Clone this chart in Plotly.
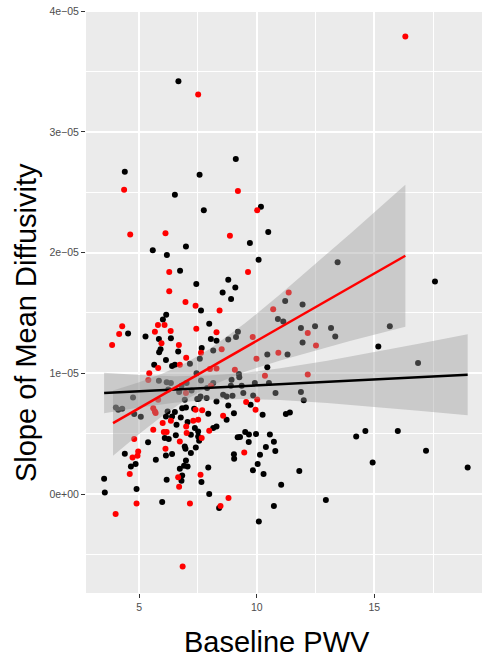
import plotly.graph_objects as go

# Mean diffusivity slopes are stored in units of 1e-05
MD_SCALE = 1e-5

# Baseline PWV / slope of MD, black group
black_pwv = [6.67, 9.11, 4.39, 7.57, 6.52, 7.75, 5.58, 6.18, 6.99, 6.74, 7.43, 8.79, 9.09, 8.55,
             8.91, 7.63, 6.15, 6.01, 7.98, 10.18, 10.49, 9.71, 10.08, 13.44, 11.21, 11.95, 10.90,
             11.13, 11.88, 12.48, 13.16, 15.66, 17.58, 4.53, 5.27, 5.84, 5.91, 5.85, 6.14, 5.64,
             6.35, 8.05, 8.29, 6.66, 7.66, 6.40, 6.52, 7.58, 8.15, 8.79, 9.12, 9.20, 7.16, 7.44,
             11.95, 10.45, 11.31, 10.45, 9.24, 13.34, 15.17, 16.86, 10.52, 9.43, 9.85, 10.80,
             11.88, 12.00, 9.74, 10.25, 11.24, 11.41, 9.51, 9.67, 9.97, 10.56, 9.66, 10.73, 10.39,
             10.79, 10.14, 10.04, 9.84, 10.29, 11.81, 11.04, 10.73, 10.09, 12.94, 14.23, 14.62,
             16.00, 17.20, 14.93, 18.97, 9.19, 9.29, 9.03, 9.04, 9.03, 8.29, 8.79, 8.72, 8.29,
             8.15, 7.94, 7.65, 7.98, 8.40, 6.94, 7.54, 7.34, 7.94, 6.83, 6.99, 6.52, 6.21, 6.14,
             6.40, 6.77, 6.59, 7.06, 7.37, 7.20, 7.51, 7.51, 7.55, 6.26, 6.56, 6.94, 6.97, 7.41,
             7.20, 6.40, 6.14, 6.99, 6.91, 7.06, 6.73, 6.83, 6.80, 6.17, 4.01, 4.11, 4.28, 4.79,
             5.07, 4.74, 6.09, 5.38, 4.39, 4.85, 4.65, 5.71, 3.51, 3.54, 4.89, 5.98, 5.84, 6.17,
             6.35, 6.80, 7.02, 6.70, 7.23, 7.47, 7.61, 7.89, 8.15, 8.72, 8.97, 8.93, 8.90, 7.63,
             9.36, 9.92, 9.26, 6.24, 8.57, 7.87]
black_md = [3.42, 2.775, 2.67, 2.645, 2.48, 2.35, 2.02, 1.98, 2.05, 1.85, 1.74, 1.775, 1.71, 1.67,
            1.615, 1.52, 1.485, 1.445, 1.41, 2.38, 2.17, 2.08, 1.94, 1.92, 1.60, 1.57, 1.45,
            1.43, 1.375, 1.39, 1.375, 1.39, 1.76, 1.33, 1.305, 1.285, 1.20, 1.175, 1.11, 1.07,
            1.29, 1.285, 1.27, 1.18, 1.21, 1.06, 1.07, 1.12, 1.19, 1.28, 1.30, 1.345, 1.08, 1.00,
            1.256, 1.155, 1.155, 1.05, 0.995, 1.305, 1.223, 1.085, 0.92, 0.837, 0.817, 0.837,
            0.845, 0.776, 0.74, 0.657, 0.663, 0.676, 0.514, 0.494, 0.497, 0.494, 0.431, 0.433, 0.389,
            0.356, 0.326, 0.249, 0.196, 0.166, 0.19, 0.077, -0.10, -0.227, -0.05, 0.477, 0.522,
            0.522, 0.359, 0.262, 0.22, 0.47, 0.473, 0.33, 0.292, 0.67, 0.767, 0.734, 0.616, 0.56,
            0.547, 0.22, 0.10, 0.00, -0.116, 0.78, 0.79, 0.707, 0.665, 0.71, 0.717, 0.68, 0.684, 0.643,
            0.643, 0.635, 0.574, 0.597, 0.547, 0.491, 0.519, 0.477, 0.442, 0.456, 0.486, 0.394, 0.375, 0.386,
            0.34, 0.331, 0.32, 0.278, 0.234, 0.229, 0.21, 0.154, 0.11, 0.118, 0.717, 0.698, 0.707, 0.663,
            0.64, 0.80, 0.464, 0.428, 0.334, 0.249, 0.229, 0.284, 0.127, 0.013, 0.041, -0.066, 0.939, 0.925,
            0.92, 0.897, 0.92, 0.845, 0.858, 0.787, 0.808, 0.878, 0.92, 0.808, 0.814, 0.947, 0.897, 0.94,
            0.897, 0.92, 0.967, 0.865, 0.823, 0.795]

# Baseline PWV / slope of MD, red group
red_pwv = [7.51, 4.36, 9.20, 4.62, 6.12, 8.86, 6.28, 6.28, 6.97, 7.40, 8.42, 4.28, 5.80, 6.08,
           10.02, 9.63, 11.36, 10.70, 16.32, 4.15, 3.85, 5.67, 5.95, 5.81, 5.43, 6.34, 7.43, 8.29,
           6.69, 7.63, 7.00, 6.73, 8.51, 8.29, 8.01, 9.07, 12.17, 9.83, 10.92, 9.99, 10.35, 12.17,
           12.52, 9.55, 10.02, 9.95, 9.47, 8.57, 7.98, 7.61, 8.80, 8.46, 7.16, 7.40, 7.68, 6.35,
           7.00, 7.30, 7.51, 7.02, 7.66, 6.17, 6.73, 6.12, 6.66, 6.70, 5.60, 5.67, 5.70, 5.81,
           6.00, 5.60, 6.05, 4.79, 4.96, 4.93, 4.72, 4.60, 4.89, 4.00, 6.85, 5.39, 8.05, 6.99]
red_md = [3.31, 2.52, 2.51, 2.15, 2.16, 2.14, 1.84, 1.68, 1.59, 1.56, 1.52, 1.39, 1.40, 1.40,
          2.35, 1.84, 1.67, 1.53, 3.79, 1.325, 1.235, 1.345, 1.25, 1.045, 1.00, 1.35, 1.37, 1.34,
          1.235, 1.17, 1.13, 1.07, 1.20, 1.04, 1.035, 1.03, 1.335, 1.30, 1.17, 1.12, 0.98, 0.99,
          1.23, 0.762, 0.784, 0.698, 0.345, 0.649, 0.524, 0.16, -0.033, -0.10, -0.078, 0.698, 0.693, 0.607,
          0.56, 0.607, 0.616, 0.505, 0.464, 0.514, 0.436, 0.375, 0.138, 0.06, 0.71, 0.684, 0.671, 0.78,
          0.588, 0.533, 0.514, 0.456, 0.353, 0.317, 0.303, 0.166, -0.078, -0.166, -0.60, 0.944, 0.897, 0.837]

# Linear fits with 95% confidence bands (values in 1e-05)
black_fit_x = [3.51, 5.0, 6.5, 8.0, 9.5, 11.0, 13.0, 15.0, 17.0, 18.97]
black_fit_y = [0.837, 0.851, 0.866, 0.881, 0.895, 0.910, 0.930, 0.949, 0.969, 0.988]
black_fit_lo = [0.670, 0.716, 0.756, 0.781, 0.787, 0.778, 0.754, 0.722, 0.688, 0.652]
black_fit_hi = [1.005, 0.987, 0.976, 0.981, 1.004, 1.042, 1.105, 1.176, 1.250, 1.324]

red_fit_x = [3.89, 5.0, 6.0, 7.0, 8.0, 9.5, 11.0, 12.5, 14.0, 16.32]
red_fit_y = [0.588, 0.712, 0.823, 0.935, 1.046, 1.214, 1.381, 1.548, 1.715, 1.974]
red_fit_lo = [0.318, 0.497, 0.648, 0.783, 0.892, 1.013, 1.107, 1.190, 1.269, 1.386]
red_fit_hi = [0.858, 0.927, 0.998, 1.087, 1.201, 1.414, 1.655, 1.906, 2.161, 2.562]

x_ticks = [5, 10, 15]
y_ticks = [0, 1, 2, 3, 4]
y_tick_labels = ["0e+00", "1e\u221205", "2e\u221205", "3e\u221205", "4e\u221205"]


def scaled(vals):
    return [v * MD_SCALE for v in vals]


FONT = "Liberation Sans, Arial, sans-serif"
BAND = "rgba(153,153,153,0.4)"

fig = go.Figure()

fig.add_trace(go.Scatter(x=black_pwv, y=scaled(black_md), mode="markers",
                         marker=dict(color="#000000", size=6, line=dict(width=0)),
                         hoverinfo="skip", showlegend=False))
fig.add_trace(go.Scatter(x=red_pwv, y=scaled(red_md), mode="markers",
                         marker=dict(color="#FF0000", size=6, line=dict(width=0)),
                         hoverinfo="skip", showlegend=False))

for fx, lo, hi in [(black_fit_x, black_fit_lo, black_fit_hi), (red_fit_x, red_fit_lo, red_fit_hi)]:
    fig.add_trace(go.Scatter(x=fx + fx[::-1], y=scaled(hi + lo[::-1]), mode="lines",
                             fill="toself", fillcolor=BAND, line=dict(width=0),
                             hoverinfo="skip", showlegend=False))

fig.add_trace(go.Scatter(x=black_fit_x, y=scaled(black_fit_y), mode="lines",
                         line=dict(color="#000000", width=2.5), hoverinfo="skip", showlegend=False))
fig.add_trace(go.Scatter(x=red_fit_x, y=scaled(red_fit_y), mode="lines",
                         line=dict(color="#FF0000", width=2.5), hoverinfo="skip", showlegend=False))

fig.update_layout(
    width=482, height=660, autosize=False,
    margin=dict(l=86, r=0, t=10, b=67),
    paper_bgcolor="white", plot_bgcolor="#EBEBEB",
    font=dict(family=FONT, color="#4D4D4D"),
    showlegend=False,
)

fig.update_xaxes(
    range=[2.74, 19.58], tickvals=x_ticks, ticktext=[str(v) for v in x_ticks],
    showgrid=True, gridcolor="white", gridwidth=2, zeroline=False, showline=False,
    ticks="outside", ticklen=4, tickwidth=1, tickcolor="#333333",
    tickfont=dict(size=10.5, color="#4D4D4D", family=FONT),
    minor=dict(tickvals=[7.5, 12.5, 17.5], showgrid=True, gridcolor="white", gridwidth=1, ticks=""),
)
fig.update_yaxes(
    range=[-0.82e-5, 4.01e-5], tickvals=scaled(y_ticks), ticktext=y_tick_labels,
    showgrid=True, gridcolor="white", gridwidth=2, zeroline=False, showline=False,
    ticks="outside", ticklen=4, tickwidth=1, tickcolor="#333333",
    tickfont=dict(size=10.5, color="#4D4D4D", family=FONT),
    minor=dict(tickvals=scaled([-0.5, 0.5, 1.5, 2.5, 3.5]), showgrid=True, gridcolor="white",
               gridwidth=1, ticks=""),
)

fig.add_annotation(text="Slope of Mean Diffusivity", xref="paper", yref="paper",
                   x=0, y=0.463, xanchor="center", yanchor="middle", xshift=-60,
                   textangle=-90, showarrow=False,
                   font=dict(size=29, color="#000000", family=FONT))
fig.add_annotation(text="Baseline PWV", xref="paper", yref="paper",
                   x=0.482, y=0, xanchor="center", yanchor="middle", yshift=-49,
                   showarrow=False, font=dict(size=29, color="#000000", family=FONT))

fig.write_html("out.html")
